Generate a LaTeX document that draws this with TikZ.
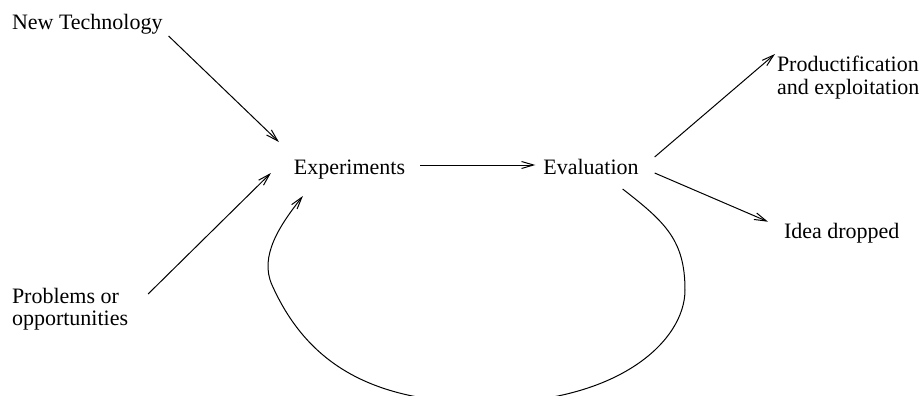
\documentclass[tikz,border=0pt]{standalone}
\usepackage{fontspec}
\setmainfont{Liberation Serif}
\usetikzlibrary{arrows.meta,positioning}

\begin{document}
\begin{tikzpicture}[
		x=0.5pt, y=-0.5pt,
		>={Straight Barb[length=6pt,width=3.5pt]},
		font=\fontsize{11}{11.6}\selectfont,
		word/.style={
			inner sep=0pt,
			outer sep=0pt,
			align=left
		},
		flow/.style={
			->,
			line width=0.5pt
		}
		]
		\useasboundingbox (0,0) rectangle (923,396);
		
		% We start by placing the labels
		
		\node [word, anchor=base west] (newtech) at (12,29) {New Technology};
		
		\node [word, anchor=north west, font=\fontsize{11}{10.8}\selectfont] (problems) at (12,288.5)
		{%
			Problems or\\
			opportunities
		};
		
		\node [word, anchor=base] (exp) at (349.5,174) {Experiments};
		
		\node [word, anchor=base] (eval) at (591,174) {Evaluation};
		
		\node [word, anchor=north west] (prod) at (777,55.7)
		{%
			Productification\\
			and exploitation
		};
		
		\node [word, anchor=base west] (idea) at (784,238.3) {Idea dropped};
		
		% ends of the loop back
		\coordinate (loopout) at ([shift={(-16,15)}]eval.base east);
		\coordinate (loopin) at ([shift={(9,22)}]exp.base west);
		
		\draw [flow] ([shift={(6,7)}]newtech.base east) -- ([shift={(-15,-32)}]exp.base west);
		\draw [flow] ([shift={(20,5.5)}]problems.north east) -- ([shift={(-23,-1)}]exp.base west);
		\draw [flow] ([shift={(15,-9)}]exp.base east) -- ([shift={(-8,-9)}]eval.base west);
		\draw [flow] ([shift={(16,-17)}]eval.base east) -- ([shift={(-2,-1.7)}]prod.north west);
		\draw [flow] ([shift={(16,-1)}]eval.base east) -- ([shift={(-16,-16.6)}]idea.base west);
		\draw [flow] (loopout)
			.. controls (665,222) and (685,240) .. (685,290)
			.. controls (685,340) and (620,403) .. (485,403)
			.. controls (380,402) and (310,370) .. (272,285)
			.. controls (259,256) and (280,225) .. (loopin);
		
\end{tikzpicture}
\end{document}
